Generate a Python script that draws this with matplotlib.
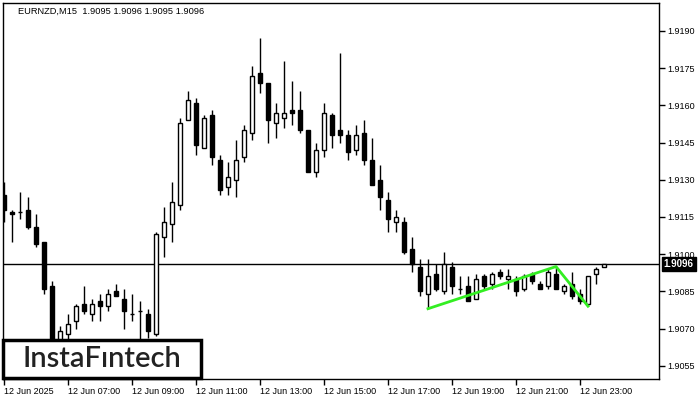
import matplotlib
matplotlib.use("Agg")
import matplotlib.pyplot as plt
from matplotlib.patches import Rectangle
import matplotlib.transforms as mtransforms

# EURNZD M15 candles, 12 Jun 2025 05:00 .. 23:45
opens = [1.9124, 1.9117, 1.9117, 1.9118, 1.9111, 1.9105, 1.9087, 1.9065, 1.9068, 1.9073,
         1.9080, 1.9076, 1.9081, 1.9079, 1.9085, 1.9082, 1.9076, 1.9077, 1.9076, 1.9068,
         1.9107, 1.9112, 1.9120, 1.9154, 1.9161, 1.9143, 1.9156, 1.9138, 1.9127, 1.9130,
         1.9139, 1.9149, 1.9173, 1.9169, 1.9153, 1.9155, 1.9158, 1.9158, 1.9150, 1.9133,
         1.9142, 1.9156, 1.9150, 1.9148, 1.9142, 1.9149, 1.9138, 1.9130, 1.9122, 1.9113,
         1.9113, 1.9102, 1.9095, 1.9084, 1.9092, 1.9085, 1.9095, 1.9086, 1.9087, 1.9082,
         1.9091, 1.9088, 1.9093, 1.9090, 1.9090, 1.9086, 1.9092, 1.9088, 1.9087, 1.9092,
         1.9085, 1.9088, 1.9084, 1.9080, 1.9092, 1.9095]
highs = [1.9129, 1.9118, 1.9125, 1.9123, 1.9116, 1.9105, 1.9089, 1.9071, 1.9076, 1.9080,
         1.9087, 1.9082, 1.9084, 1.9086, 1.9088, 1.9086, 1.9084, 1.9081, 1.9078, 1.9109,
         1.9119, 1.9129, 1.9155, 1.9166, 1.9163, 1.9156, 1.9158, 1.9140, 1.9137, 1.9146,
         1.9152, 1.9176, 1.9187, 1.9169, 1.9161, 1.9178, 1.9170, 1.9166, 1.9150, 1.9145,
         1.9161, 1.9157, 1.9181, 1.9150, 1.9152, 1.9154, 1.9147, 1.9136, 1.9125, 1.9118,
         1.9115, 1.9107, 1.9098, 1.9098, 1.9096, 1.9101, 1.9097, 1.9091, 1.9091, 1.9092,
         1.9092, 1.9093, 1.9094, 1.9094, 1.9091, 1.9092, 1.9093, 1.9089, 1.9094, 1.9095,
         1.9088, 1.9093, 1.9086, 1.9091, 1.9095, 1.9096]
lows = [1.9113, 1.9105, 1.9114, 1.9110, 1.9103, 1.9084, 1.9061, 1.9063, 1.9064, 1.9070,
        1.9076, 1.9073, 1.9073, 1.9077, 1.9083, 1.9070, 1.9073, 1.9063, 1.9066, 1.9067,
        1.9099, 1.9105, 1.9118, 1.9154, 1.9140, 1.9143, 1.9136, 1.9124, 1.9124, 1.9123,
        1.9137, 1.9146, 1.9165, 1.9145, 1.9147, 1.9151, 1.9152, 1.9149, 1.9133, 1.9131,
        1.9139, 1.9143, 1.9145, 1.9138, 1.9140, 1.9136, 1.9128, 1.9118, 1.9109, 1.9109,
        1.9100, 1.9093, 1.9083, 1.9078, 1.9085, 1.9084, 1.9084, 1.9084, 1.9081, 1.9082,
        1.9086, 1.9086, 1.9090, 1.9086, 1.9083, 1.9085, 1.9088, 1.9086, 1.9086, 1.9086,
        1.9084, 1.9082, 1.9080, 1.9079, 1.9088, 1.9095]
closes = [1.9118, 1.9116, 1.9117, 1.9111, 1.9104, 1.9086, 1.9064, 1.9069, 1.9072, 1.9079,
          1.9077, 1.9080, 1.9079, 1.9084, 1.9083, 1.9077, 1.9076, 1.9077, 1.9069, 1.9108,
          1.9113, 1.9121, 1.9153, 1.9162, 1.9144, 1.9155, 1.9139, 1.9126, 1.9131, 1.9138,
          1.9150, 1.9172, 1.9169, 1.9154, 1.9157, 1.9157, 1.9157, 1.9150, 1.9133, 1.9142,
          1.9157, 1.9148, 1.9148, 1.9141, 1.9148, 1.9138, 1.9128, 1.9123, 1.9114, 1.9115,
          1.9101, 1.9096, 1.9085, 1.9091, 1.9086, 1.9096, 1.9087, 1.9086, 1.9081, 1.9090,
          1.9087, 1.9092, 1.9091, 1.9091, 1.9085, 1.9091, 1.9089, 1.9086, 1.9093, 1.9086,
          1.9087, 1.9083, 1.9081, 1.9091, 1.9094, 1.9096]

# pattern line (double bottom style)
pattern_x = [53, 69, 73]
pattern_y = [1.9078, 1.9095, 1.9079]

last_price = 1.9096
price_ticks = [1.9055, 1.9070, 1.9085, 1.9100, 1.9115, 1.9130, 1.9145, 1.9160, 1.9175, 1.9190]
time_tick_pos = [0, 8, 16, 24, 32, 40, 48, 56, 64, 72]
time_labels = ["12 Jun 2025", "12 Jun 07:00", "12 Jun 09:00", "12 Jun 11:00", "12 Jun 13:00",
               "12 Jun 15:00", "12 Jun 17:00", "12 Jun 19:00", "12 Jun 21:00", "12 Jun 23:00"]

plt.rcParams['font.family'] = ['Liberation Sans', 'DejaVu Sans']

fig = plt.figure(figsize=(7, 4), dpi=100)
ax = fig.add_axes([3 / 700, 21 / 400, 656 / 700, 376 / 400])

for i in range(len(opens)):
    o, h, l, c = opens[i], highs[i], lows[i], closes[i]
    ax.vlines(i, l, h, color='black', linewidth=1, zorder=3)
    fill = 'white' if c >= o else 'black'
    ax.bar(i, abs(c - o), bottom=min(o, c), width=0.55, color=fill,
           edgecolor='black', linewidth=1, zorder=4)

ax.axhline(last_price, color='black', linewidth=1, zorder=2)
ax.plot(pattern_x, pattern_y, color='#33EE22', linewidth=2, zorder=5)

ax.set_xlim(-0.125, 81.875)
ax.set_ylim(1.904965, 1.920129)

ax.yaxis.tick_right()
ax.set_yticks(price_ticks)
ax.set_yticklabels([f"{p:.4f}" for p in price_ticks], fontsize=6.5)
ax.set_xticks(time_tick_pos)
ax.set_xticklabels(time_labels, fontsize=6.5, ha='left')
ax.tick_params(axis='both', direction='out', length=4, width=1, colors='black', pad=2)
for s in ax.spines.values():
    s.set_linewidth(1)

# current price tag
trans = mtransforms.blended_transform_factory(ax.transAxes, ax.transData)
ax.text(1.007, last_price, "1.9096", transform=trans, fontsize=7, color='white',
        va='center', ha='left', fontweight='bold',
        bbox=dict(boxstyle='square,pad=0.2', fc='black', ec='black'))

fig.text(18 / 700, 1 - 11 / 400, "EURNZD,M15  1.9095 1.9096 1.9095 1.9096",
         fontsize=6.7, va='center', ha='left', color='black')

# logo box
fig.patches.append(Rectangle((3 / 700, 22 / 400), 198 / 700, 38 / 400, transform=fig.transFigure,
                             facecolor='white', edgecolor='black', linewidth=2.5, zorder=10))
fig.text(102 / 700, 1 - 359 / 400, "InstaFıntech", fontsize=21, family=['Lato', 'DejaVu Sans'],
         fontweight='semibold', color='#222222', ha='center', va='center', zorder=11)

fig.savefig("out.png", dpi=100)
